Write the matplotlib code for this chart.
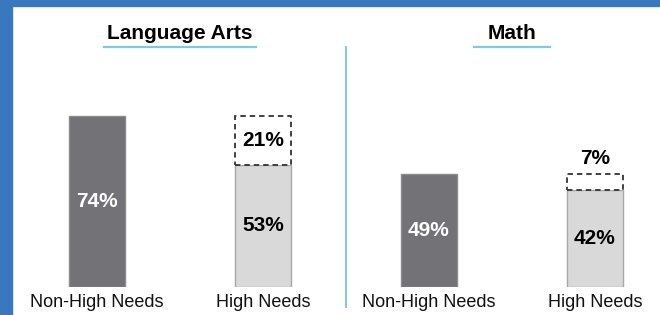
import matplotlib.pyplot as plt
from matplotlib.patches import Rectangle

plt.rcParams['font.family'] = ['Liberation Sans', 'DejaVu Sans']

# data
subjects = ["Language Arts", "Math"]
groups = ["Non-High Needs", "High Needs", "Non-High Needs", "High Needs"]
rates = [74, 53, 49, 42]
# gap between high needs and non-high needs (dashed box)
gaps = [0, 21, 0, 7]

dark = "#737377"
light = "#d9d9d9"
teal = "#7fcad6"
blue = "#3a78bd"

fig = plt.figure(figsize=(6.6, 3.15), dpi=100)
ax = fig.add_axes([0, 28 / 315, 1, 287 / 315])
ax.set_xlim(-97 / 166, (660 - 97) / 166)
ax.set_ylim(0, 287 / 2.31)
ax.axis("off")

x = list(range(len(groups)))
colors = [dark if i % 2 == 0 else light for i in x]
edges = ["#8c8c8c" if i % 2 == 0 else "#a8a8a8" for i in x]
ax.bar(x, rates, width=0.34, color=colors, edgecolor=edges, linewidth=1)

# dashed boxes for the gap
for i in x:
    if gaps[i] > 0:
        ax.bar(i, gaps[i], bottom=rates[i], width=0.34, color="white",
               edgecolor="#333333", linewidth=1.3, linestyle=(0, (3, 2.2)))

# value labels
for i in x:
    tc = "white" if i % 2 == 0 else "black"
    ax.text(i, rates[i] / 2, f"{rates[i]}%", ha="center", va="center",
            color=tc, fontsize=15, fontweight="bold")
    if gaps[i] >= 12:
        ax.text(i, rates[i] + gaps[i] / 2, f"{gaps[i]}%", ha="center",
                va="center", fontsize=15, fontweight="bold")
    elif gaps[i] > 0:
        ax.text(i, rates[i] + gaps[i] + 2.6, f"{gaps[i]}%", ha="center",
                va="bottom", fontsize=15, fontweight="bold")

# category labels
for i in x:
    ax.text(i, -6.5, groups[i], ha="center", va="center", fontsize=13,
            color="#111111", clip_on=False)

# subject titles with underline
half = [0.455, 0.23]
for k, s in enumerate(subjects):
    cx = 2 * k + 0.5
    ax.text(cx, 109.8, s, ha="center", va="center", fontsize=15,
            fontweight="bold")
    ax.plot([cx - half[k], cx + half[k]], [103.9, 103.9], color=teal, lw=1.6)

# divider between subjects
ax.plot([1.5, 1.5], [103.9, -8.7], color=teal, lw=1.4, clip_on=False)

# blue frame
fig.patches.append(Rectangle((0, 0), 12 / 660, 1, transform=fig.transFigure,
                             color=blue, zorder=10))
fig.patches.append(Rectangle((0, 1 - 6 / 315), 1, 6 / 315,
                             transform=fig.transFigure, color=blue, zorder=10))

fig.savefig("out.png", dpi=100)
